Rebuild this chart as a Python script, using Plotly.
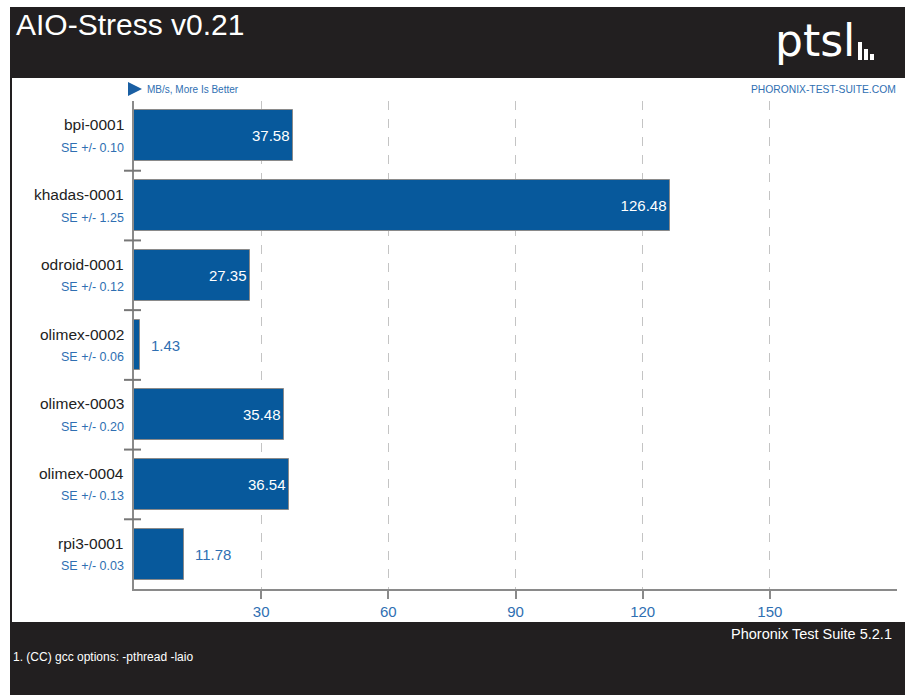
import plotly.graph_objects as go

categories = ["bpi-0001", "khadas-0001", "odroid-0001", "olimex-0002",
              "olimex-0003", "olimex-0004", "rpi3-0001"]
values = [37.58, 126.48, 27.35, 1.43, 35.48, 36.54, 11.78]
se_values = [0.10, 1.25, 0.12, 0.06, 0.20, 0.13, 0.03]
x_ticks = [30, 60, 90, 120, 150]

title = "AIO-Stress v0.21"
units = "MB/s, More Is Better"
footer_right = "Phoronix Test Suite 5.2.1"
footer_note = "1. (CC) gcc options: -pthread -laio"

BAR = "#07599c"
BLUE = "#2f6fb2"
DARK = "#221f20"
FONT = "Liberation Sans, Arial, sans-serif"

idx = list(range(len(categories)))
inside = [v > 20 for v in values]

fig = go.Figure()
fig.add_trace(go.Bar(
    x=values, y=idx, orientation="h", width=0.73,
    marker=dict(color=BAR, line=dict(color="#8a8a8a", width=1)),
    text=[f"{v:.2f}" if ins else "" for v, ins in zip(values, inside)],
    textposition="inside", insidetextanchor="end",
    textfont=dict(family=FONT, size=15, color="white"),
    cliponaxis=False, hoverinfo="skip",
))

W, H = 905, 695
L, R, T, B = 134, 8, 101, 106
pw, ph = W - L - R, H - T - B
def px(xp):
    return (xp - L) / pw
def py(yp):
    return (H - B - yp) / ph

shapes = [
    dict(type="rect", xref="paper", yref="paper", x0=px(10), x1=px(905), y0=py(78), y1=py(7),
         fillcolor=DARK, line_width=0, layer="below"),
    dict(type="rect", xref="paper", yref="paper", x0=px(10), x1=px(905), y0=py(695), y1=py(622),
         fillcolor=DARK, line_width=0, layer="below"),
    dict(type="rect", xref="paper", yref="paper", x0=px(10), x1=px(12), y0=py(622), y1=py(78),
         fillcolor=DARK, line_width=0, layer="below"),
]
# category separators on the y axis
for i in range(len(categories) - 1):
    shapes.append(dict(type="line", xref="paper", yref="y", x0=px(124), x1=px(141),
                       y0=i + 0.5, y1=i + 0.5, line=dict(color="#777777", width=2)))
# units triangle
shapes.append(dict(type="path", xref="paper", yref="paper",
                   path=f"M {px(128)} {py(82)} L {px(142)} {py(89)} L {px(128)} {py(96)} Z",
                   fillcolor="#1a5fa3", line_width=0))
# logo bars
for x0, x1, yt in [(858, 862, 42), (864, 868, 49), (870, 874, 54)]:
    shapes.append(dict(type="rect", xref="paper", yref="paper", x0=px(x0), x1=px(x1),
                       y0=py(60), y1=py(yt), fillcolor="white", line_width=0))

annotations = []
for i, (c, s) in enumerate(zip(categories, se_values)):
    annotations.append(dict(x=px(126), y=i, xref="paper", yref="y", text=c,
                            xanchor="right", yanchor="middle", yshift=11, showarrow=False,
                            font=dict(family=FONT, size=15.5, color="#222222")))
    annotations.append(dict(x=px(126), y=i, xref="paper", yref="y", text=f"SE +/- {s:.2f}",
                            xanchor="right", yanchor="middle", yshift=-12, showarrow=False,
                            font=dict(family=FONT, size=12.5, color=BLUE)))
# value labels placed outside short bars
for i, (v, ins) in enumerate(zip(values, inside)):
    if not ins:
        annotations.append(dict(x=v, y=i, xref="x", yref="y", text=f"{v:.2f}",
                                xanchor="left", yanchor="middle", xshift=9, showarrow=False,
                                font=dict(family=FONT, size=15, color=BLUE)))

annotations += [
    dict(x=px(14), y=py(25), xref="paper", yref="paper", text=title, xanchor="left",
         yanchor="middle", showarrow=False, font=dict(family=FONT, size=30, color="white")),
    dict(x=px(857), y=py(41), xref="paper", yref="paper", text="ptsl", xanchor="right",
         yanchor="middle", showarrow=False,
         font=dict(family="DejaVu Sans, sans-serif", size=44, color="white")),
    dict(x=px(145), y=py(89), xref="paper", yref="paper", text=units, xanchor="left",
         yanchor="middle", showarrow=False, font=dict(family=FONT, size=10, color=BLUE)),
    dict(x=px(898), y=py(89), xref="paper", yref="paper", text="PHORONIX-TEST-SUITE.COM",
         xanchor="right", yanchor="middle", showarrow=False,
         font=dict(family=FONT, size=10.3, color=BLUE)),
    dict(x=px(894), y=py(634), xref="paper", yref="paper", text=footer_right,
         xanchor="right", yanchor="middle", showarrow=False,
         font=dict(family=FONT, size=14.5, color="white")),
    dict(x=px(11), y=py(657), xref="paper", yref="paper", text=footer_note,
         xanchor="left", yanchor="middle", showarrow=False,
         font=dict(family=FONT, size=12, color="white")),
]

fig.update_layout(
    width=W, height=H,
    margin=dict(l=L, r=R, t=T, b=B, pad=0),
    paper_bgcolor="white", plot_bgcolor="white",
    showlegend=False, bargap=0,
    shapes=shapes, annotations=annotations,
    xaxis=dict(range=[0, 180], tickvals=x_ticks, ticktext=[str(t) for t in x_ticks],
               showgrid=True, gridcolor="#c4c4c4", griddash="dash", gridwidth=1,
               zeroline=False, showline=True, linecolor="#8a8a8a", linewidth=2,
               ticks="outside", ticklen=8, tickcolor="#8a8a8a", tickwidth=2,
               tickfont=dict(family=FONT, size=15, color=BLUE), fixedrange=True),
    yaxis=dict(range=[6.5, -0.5], showticklabels=False, showgrid=False, zeroline=False,
               showline=True, linecolor="#8a8a8a", linewidth=2, ticks="", fixedrange=True),
)

fig.write_html("out.html", config={"displayModeBar": False},
               post_script="document.body.style.margin='0';document.body.style.overflow='hidden';")
